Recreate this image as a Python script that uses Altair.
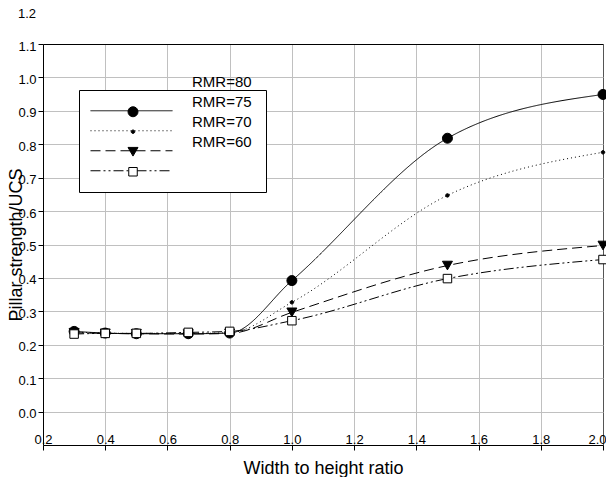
import altair as alt
import pandas as pd

# ---- data ----
x_ratio = [0.3, 0.4, 0.5, 0.667, 0.8, 1.0, 1.5, 2.0]
rmr80 = [0.240, 0.235, 0.233, 0.233, 0.235, 0.392, 0.818, 0.949]
rmr75 = [0.238, 0.235, 0.234, 0.234, 0.236, 0.327, 0.647, 0.776]
rmr70 = [0.236, 0.234, 0.233, 0.232, 0.234, 0.297, 0.437, 0.497]
rmr60 = [0.232, 0.234, 0.234, 0.237, 0.240, 0.272, 0.398, 0.455]
series_names = ["RMR=80", "RMR=75", "RMR=70", "RMR=60"]
x_ticks = [0.2, 0.4, 0.6, 0.8, 1.0, 1.2, 1.4, 1.6, 1.8, 2.0]
y_ticks = [0.0, 0.1, 0.2, 0.3, 0.4, 0.5, 0.6, 0.7, 0.8, 0.9, 1.0, 1.1]
y_extra_label = [1.2]

rows = []
for name, vals in zip(series_names, [rmr80, rmr75, rmr70, rmr60]):
    for xv, yv in zip(x_ratio, vals):
        rows.append({"series": name, "ratio": xv, "strength": yv})
df = pd.DataFrame(rows)

FONT = "Liberation Sans"

x_enc = alt.X(
    "ratio:Q",
    title="Width to height ratio",
    scale=alt.Scale(domain=[0.2, 2.0], nice=False, zero=False),
    axis=alt.Axis(
        values=x_ticks, format=".1f", grid=True,
        gridColor={"condition": {"test": "datum.value > 1.99", "value": "#555555"}, "value": "#c0c0c0"},
        domainColor="black", tickColor="black", tickSize=5,
        labelFont=FONT, labelFontSize=13, labelColor="black",
        labelBaseline="alphabetic", labelPadding=-7, labelFlush=False, labelOverlap=False,
        labelOffset={"condition": {"test": "datum.value > 1.99", "value": -6}, "value": 0},
        titleFont=FONT, titleFontSize=18, titleFontWeight="normal", titleColor="black",
        titleY=28, titleBaseline="alphabetic",
    ),
)

y_axis = alt.Axis(
    values=y_ticks, format=".1f", grid=True,
    gridColor={"condition": {"test": "datum.value > 1.05", "value": "black"}, "value": "#c0c0c0"},
    domainColor="black", tickColor="black", tickSize=5,
    labelFont=FONT, labelFontSize=13, labelColor="black",
    labelPadding=2, labelOffset=2, labelFlush=False, labelOverlap=False,
    titleFont=FONT, titleFontSize=18, titleFontWeight="normal", titleColor="black",
    titleAngle=270, titleX=-22, titleY=200.5, titleAlign="center", titleBaseline="alphabetic",
)
y_scale = alt.Scale(domain=[-0.1, 1.1], nice=False, zero=False)


def y_enc(field):
    return alt.Y(field, title="Pillar strength/UCS", scale=y_scale, axis=y_axis)


leg_lines = alt.Legend(
    title=None, orient="none", legendX=36, legendY=46,
    symbolType="stroke", symbolSize=6724, symbolStrokeWidth=1, symbolStrokeColor="black",
    symbolOpacity=1,
    clipHeight=19.5, padding=11, rowPadding=0,
    strokeColor="black", fillColor="white",
    labelOpacity=0, labelFont=FONT, labelFontSize=15, labelOffset=22, zindex=1,
)
leg_marks = alt.Legend(
    title=None, orient="none", legendX=82.5, legendY=58,
    symbolSize=100, symbolStrokeWidth=1, symbolOpacity=1,
    clipHeight=19.5, padding=0, rowPadding=0,
    labelOpacity=0, labelFontSize=15, zindex=2,
)
leg_labels = alt.Legend(
    title=None, orient="none", legendX=134, legendY=28,
    symbolType="M0,0", symbolFillColor="transparent", symbolStrokeColor="transparent",
    clipHeight=19.5, padding=0, rowPadding=0,
    labelFont=FONT, labelFontSize=15, labelColor="black", labelOffset=0, zindex=3,
)

base = alt.Chart(df).transform_calculate(series_m="datum.series", series_l="datum.series")

lines = base.mark_line(strokeWidth=1, interpolate="monotone", color="black").encode(
    x=x_enc, y=y_enc("strength:Q"),
    strokeDash=alt.StrokeDash(
        "series:N", sort="descending",
        scale=alt.Scale(range=[[1, 0], [1, 3], [10, 5], [10, 3, 2, 3, 2, 3]]),
        legend=leg_lines,
    ),
)

shape_range = [
    "circle",
    "M0.35,0A0.35,0.35,0,1,1,-0.35,0A0.35,0.35,0,1,1,0.35,0Z",
    "triangle-down",
    "M-0.85,-0.85H0.85V0.85H-0.85Z",
]
points = base.mark_point(size=100, strokeWidth=1, opacity=1).encode(
    x=x_enc, y=y_enc("strength:Q"),
    shape=alt.Shape("series_m:N", sort="descending", scale=alt.Scale(range=shape_range), legend=leg_marks),
    fill=alt.Fill("series_m:N", sort="descending",
                  scale=alt.Scale(range=["black", "black", "black", "white"]), legend=leg_marks),
    stroke=alt.Stroke("series_m:N", sort="descending", scale=alt.Scale(range=["black"] * 4), legend=leg_marks),
    opacity=alt.Opacity("series_l:N", sort="descending", scale=alt.Scale(range=[1, 1]), legend=leg_labels),
)

extra = alt.Chart(
    pd.DataFrame({"value": y_extra_label, "label": [f"{v:.1f}" for v in y_extra_label]})
).mark_text(
    align="right", baseline="middle", dy=3, font=FONT, fontSize=13, color="black"
).encode(
    y=y_enc("value:Q"),
    x=alt.value(-7),
    text="label:N",
)

chart = alt.layer(lines, points, extra).properties(
    width=560, height=401,
    autosize=alt.AutoSizeParams(type="none"),
    padding={"left": 35, "top": 36, "right": 3, "bottom": 32},
    background="white",
).configure_view(stroke=None)

chart.save("out.html", embed_options={"renderer": "svg", "actions": False})
